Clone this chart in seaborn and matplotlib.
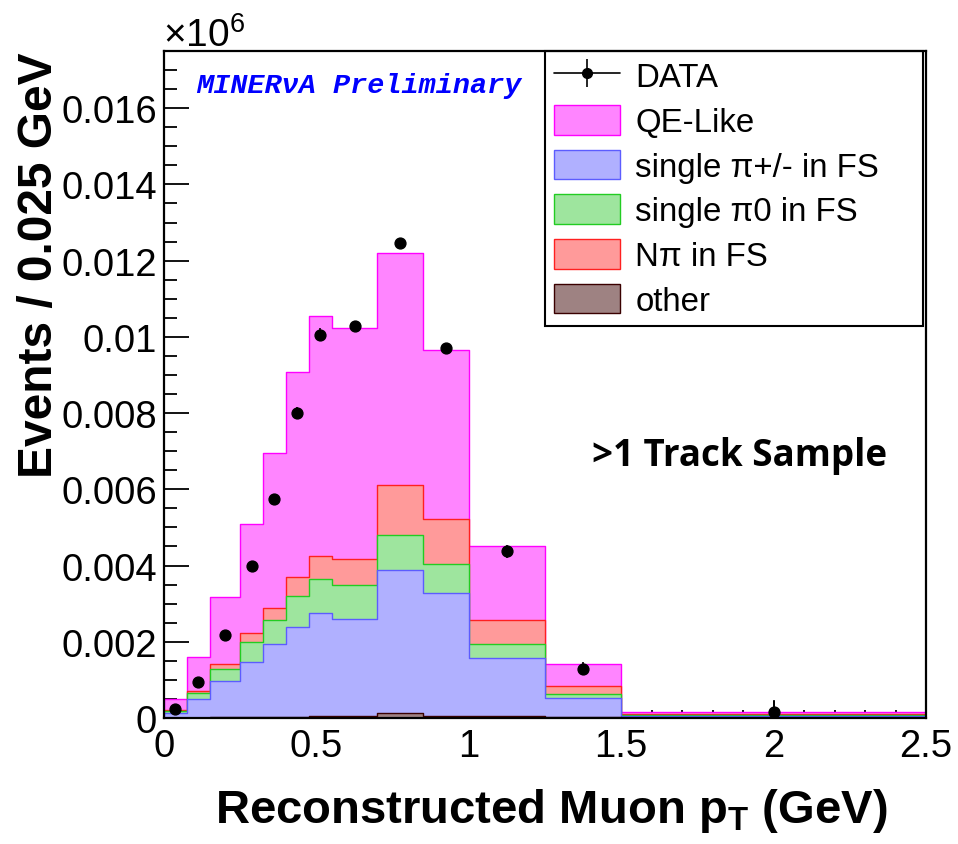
import numpy as np
import matplotlib
matplotlib.use("Agg")
import matplotlib.pyplot as plt
from matplotlib.patches import Patch
from matplotlib.lines import Line2D
from matplotlib.ticker import MultipleLocator, FuncFormatter
import seaborn as sns

# ---------------- data ----------------
bin_edges = [0, 0.075, 0.15, 0.25, 0.325, 0.4, 0.475, 0.55, 0.7, 0.85, 1.0, 1.25, 1.5, 2.5]
bin_centers = [0.0375, 0.1125, 0.2, 0.2875, 0.3625, 0.4375, 0.5125, 0.625, 0.775, 0.925, 1.125, 1.375, 2.0]

other = [0.01e-3, 0.01e-3, 0.02e-3, 0.02e-3, 0.03e-3, 0.03e-3, 0.05e-3, 0.06e-3, 0.12e-3, 0.06e-3, 0.04e-3, 0.02e-3, 0.005e-3]
single_pipm = [0.13e-3, 0.50e-3, 0.96e-3, 1.46e-3, 1.90e-3, 2.36e-3, 2.71e-3, 2.54e-3, 3.77e-3, 3.21e-3, 1.53e-3, 0.50e-3, 0.045e-3]
single_pi0 = [0.05e-3, 0.15e-3, 0.31e-3, 0.51e-3, 0.65e-3, 0.82e-3, 0.89e-3, 0.89e-3, 0.91e-3, 0.77e-3, 0.37e-3, 0.12e-3, 0.03e-3]
n_pi = [0.02e-3, 0.06e-3, 0.13e-3, 0.24e-3, 0.31e-3, 0.48e-3, 0.60e-3, 0.68e-3, 1.32e-3, 1.17e-3, 0.64e-3, 0.21e-3, 0.03e-3]
qe_like = [0.28e-3, 0.89e-3, 1.75e-3, 2.85e-3, 4.06e-3, 5.40e-3, 6.30e-3, 6.06e-3, 6.07e-3, 4.45e-3, 1.92e-3, 0.57e-3, 0.05e-3]

data_vals = [0.24e-3, 0.94e-3, 2.18e-3, 4.00e-3, 5.75e-3, 8.01e-3, 10.05e-3, 10.29e-3, 12.46e-3, 9.70e-3, 4.38e-3, 1.29e-3, 0.16e-3]
data_err = [0.05e-3, 0.08e-3, 0.10e-3, 0.12e-3, 0.14e-3, 0.16e-3, 0.17e-3, 0.12e-3, 0.13e-3, 0.12e-3, 0.17e-3, 0.17e-3, 0.30e-3]

labels = ["DATA", "QE-Like", "single \u03c0+/- in FS", "single \u03c00 in FS", "N\u03c0 in FS", "other"]

# ---------------- style ----------------
sns.set_style("ticks")
plt.rcParams["font.family"] = ["Liberation Sans", "DejaVu Sans"]
plt.rcParams["mathtext.fontset"] = "custom"
plt.rcParams["mathtext.rm"] = "Liberation Sans"
plt.rcParams["mathtext.bf"] = "Liberation Sans:bold"
for key in ["text.color", "axes.labelcolor", "xtick.color", "ytick.color", "axes.edgecolor"]:
    plt.rcParams[key] = "black"

W, H = 958, 845
fig = plt.figure(figsize=(W / 100, H / 100), dpi=100)
ax_l, ax_r, ax_t, ax_b = 164, 926, 52, 719
ax = fig.add_axes([ax_l / W, 1 - ax_b / H, (ax_r - ax_l) / W, (ax_b - ax_t) / H])

# colours (face, edge)
c_qe = ("#ff85ff", "#ff00ff")
c_npi = ("#ff9a9a", "#ff2020")
c_pi0 = ("#9ee59e", "#22cc22")
c_pipm = ("#b0b0ff", "#5c5cff")
c_oth = ("#9e8282", "#3a0000")

# stacked histogram: draw cumulative layers from top to bottom
s1 = np.array(other)
s2 = s1 + np.array(single_pipm)
s3 = s2 + np.array(single_pi0)
s4 = s3 + np.array(n_pi)
s5 = s4 + np.array(qe_like)
layers = [(s5, c_qe), (s4, c_npi), (s3, c_pi0), (s2, c_pipm), (s1, c_oth)]
for cum, (face, edge) in layers:
    sns.histplot(x=bin_centers, weights=cum, bins=bin_edges, element="step", fill=True,
                 color=face, edgecolor=edge, alpha=1, linewidth=1.0, ax=ax)

# data points
ax.errorbar(bin_centers, data_vals, yerr=data_err, fmt="o", color="black",
            markersize=7.8, elinewidth=1.2, capsize=0, zorder=5, clip_on=True)

# axes
ax.set_xlim(0, 2.5)
ax.set_ylim(0, 0.0175)
ax.set_xlabel("")
ax.set_ylabel("")
ax.xaxis.set_major_locator(MultipleLocator(0.5))
ax.xaxis.set_minor_locator(MultipleLocator(0.1))
ax.yaxis.set_major_locator(MultipleLocator(0.002))
ax.yaxis.set_minor_locator(MultipleLocator(0.0005))
fmt = FuncFormatter(lambda v, p: "%g" % round(v, 6))
ax.xaxis.set_major_formatter(fmt)
ax.yaxis.set_major_formatter(fmt)
ax.tick_params(axis="y", which="major", direction="in", length=18, width=1.3, labelsize=27.5, pad=5)
ax.tick_params(axis="y", which="minor", direction="in", length=9, width=1.3)
ax.tick_params(axis="x", which="major", direction="in", length=12, width=1.3, labelsize=27.5, pad=7)
ax.tick_params(axis="x", which="minor", direction="in", length=6, width=1.3)
for sp in ax.spines.values():
    sp.set_visible(True)
    sp.set_linewidth(1.6)
    sp.set_color("black")
    sp.set_zorder(10)

# axis titles
fig.text(40 / W, 1 - 52 / H, "Events / 0.025 GeV", rotation=90, ha="center", va="top",
         fontsize=34.5, fontweight="bold")
fig.text(888 / W, 1 - 823 / H, r"Reconstructed Muon p$_{\mathbf{T}}$ (GeV)", ha="right",
         va="baseline", fontsize=34, fontweight="bold")
fig.text(163 / W, 1 - 47 / H, "\u00d710$^{6}$", ha="left", va="baseline", fontsize=28)

# annotations
fig.text(196 / W, 1 - 93 / H, "MINER\u03bdA Preliminary", ha="left", va="baseline",
         fontsize=20.5, fontweight="bold", fontstyle="italic", color="blue",
         family=["Liberation Mono", "DejaVu Sans Mono"])
fig.text(592 / W, 1 - 466 / H, ">1 Track Sample", ha="left", va="baseline",
         fontsize=26.5, fontweight="bold", family=["Open Sans", "DejaVu Sans"])

# legend
data_handle = (Line2D([], [], color="black", lw=1.2),
               Line2D([], [], color="black", marker="o", markersize=7, ls="none"),
               Line2D([], [], color="black", marker="|", markersize=20, markeredgewidth=1.2, ls="none"))
handles = [data_handle,
           Patch(facecolor=c_qe[0], edgecolor=c_qe[1]),
           Patch(facecolor=c_pipm[0], edgecolor=c_pipm[1]),
           Patch(facecolor=c_pi0[0], edgecolor=c_pi0[1]),
           Patch(facecolor=c_npi[0], edgecolor=c_npi[1]),
           Patch(facecolor=c_oth[0], edgecolor=c_oth[1])]
lx0 = (545 - ax_l) / (ax_r - ax_l)
lw_ = (923 - 545) / (ax_r - ax_l)
lh = (325 - 52) / (ax_b - ax_t)
leg = ax.legend(handles, labels, loc="upper left", bbox_to_anchor=(lx0, 1 - lh, lw_, lh),
                mode="expand", borderaxespad=0, fontsize=23.8, frameon=True, fancybox=False,
                framealpha=1, edgecolor="black", handlelength=2.0, handleheight=1.0,
                handletextpad=0.45, labelspacing=0.35, borderpad=0.28)
leg.get_frame().set_linewidth(1.5)

fig.savefig("out.png", dpi=100)
